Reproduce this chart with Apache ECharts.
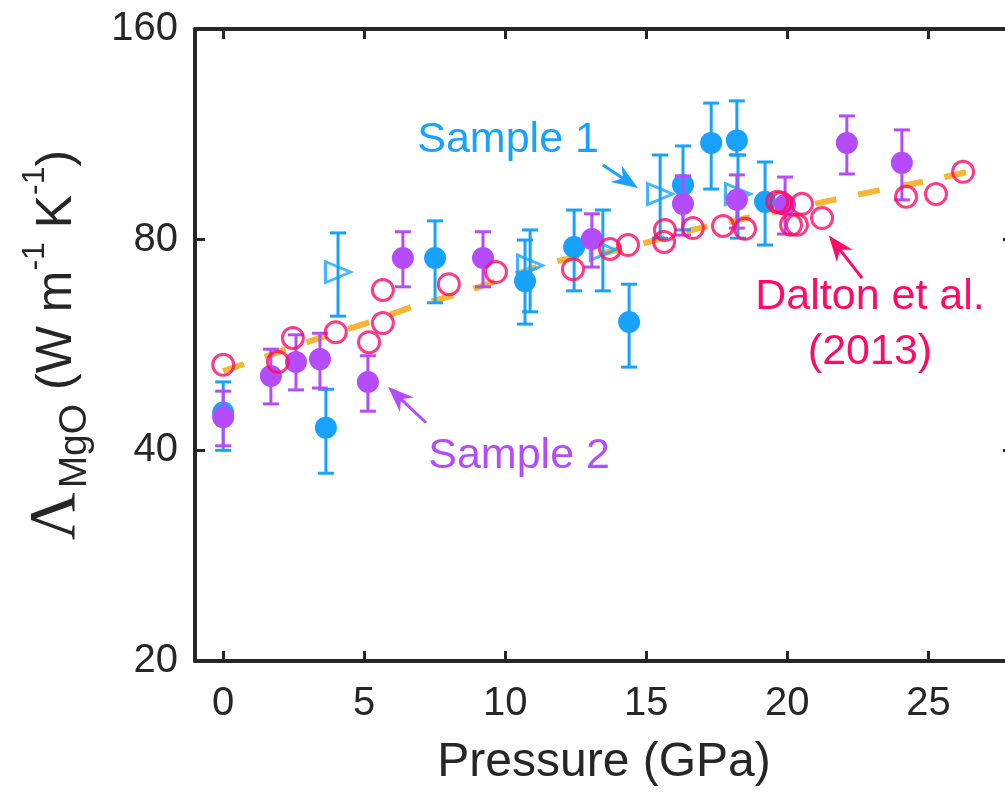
<!DOCTYPE html>
<html>
<head>
<meta charset="utf-8">
<script src="https://cdn.jsdelivr.net/npm/echarts@6/dist/echarts.min.js"></script>
<style>
  html, body { margin: 0; padding: 0; background: #fff; }
  #chart { width: 1005px; height: 794px; }
</style>
</head>
<body>
<div id="chart"></div>
<script>
// Sample 1 - filled circles
const s1Pressure = [0, 3.64, 7.51, 10.70, 12.44, 14.39, 16.30, 17.30, 18.21, 19.21];
const s1Lambda   = [45.3, 43.1, 75.3, 69.8, 78.1, 61.0, 95.8, 110.0, 110.9, 90.6];
const s1Low      = [40.0, 37.1, 65.0, 60.6, 67.6, 52.6, 82.6, 94.5, 105.7, 78.6];
const s1High     = [50.1, 48.9, 85.1, 79.9, 88.2, 69.1, 108.9, 125.4, 126.3, 103.3];

// Sample 1 - open triangles
const s1tPressure = [4.07, 10.88, 13.46, 15.49, 18.25];
const s1tLambda   = [71.9, 73.5, 77.4, 93.0, 93.0];
const s1tLow      = [62.2, 63.1, 67.6, 80.4, 80.4];
const s1tHigh     = [81.8, 82.6, 88.2, 105.7, 105.7];

// Sample 2 - filled circles
const s2Pressure = [0, 1.69, 2.58, 3.43, 5.13, 6.37, 9.21, 13.07, 16.30, 18.21, 19.92, 22.11, 24.06];
const s2Lambda   = [44.6, 51.1, 53.5, 54.0, 50.1, 75.3, 75.3, 80.2, 90.0, 91.2, 89.7, 110.0, 103.0];
const s2Low      = [40.6, 46.6, 48.8, 49.1, 45.5, 68.5, 68.5, 73.1, 81.2, 83.1, 81.5, 99.3, 91.2];
const s2High     = [48.6, 55.8, 58.5, 58.8, 54.6, 82.1, 82.1, 87.1, 98.7, 99.0, 98.3, 120.2, 114.8];

// Dalton et al. (2013) - open circles
const daltonPressure = [0, 1.94, 2.47, 3.99, 5.17, 5.66, 5.66, 8.0, 9.67, 12.40, 13.71, 14.35, 15.63, 15.66,
  16.65, 17.72, 18.5, 19.64, 19.78, 20.52, 20.13, 20.34, 21.23, 24.21, 25.27, 26.23];
const daltonLambda = [53.0, 53.5, 57.9, 59.0, 57.1, 60.8, 67.8, 69.1, 71.9, 72.6, 77.6, 78.6, 79.4, 82.6,
  83.1, 83.7, 82.9, 90.6, 90.3, 90.0, 84.0, 84.0, 85.9, 92.1, 93.0, 100.0];

// fit curve
const fitPressure = [0, 3.53, 5.2, 6.8, 8.43, 11.7, 13.4, 14.88, 16.62, 18.25, 21.63, 23.3, 24.92, 27.01];
const fitLambda   = [51.9, 58.1, 61.0, 64.3, 67.1, 74.3, 76.4, 79.0, 82.6, 85.4, 91.2, 94.2, 97.0, 101.3];

const xTicks = [0, 5, 10, 15, 20, 25];
const yTicks = [20, 40, 80, 160];

// annotations: [text, x, y, colour]
const labels = [
  ['Sample 1', 10.1, 111.1, '#17a2ff'],
  ['Sample 2', 10.49, 39.3, '#b44cfc'],
  ['Dalton et al.', 22.93, 66.3, '#ff0a66'],
  ['(2013)', 22.93, 55.3, '#ff0a66']
];
// arrows: [fromX, fromY, toX, toY, colour]
const arrows = [
  [13.46, 102.3, 14.70, 94.8, '#17a2ff'],
  [7.19, 43.8, 5.84, 49.3, '#b44cfc'],
  [22.65, 70.5, 21.47, 81.1, '#ff0a66']
];

const BLUE = '#17a2ff';
const PURPLE = '#b44cfc';
const RED = '#ff0a66';
const ORANGE = '#f6b633';
const INK = '#262626';
const FONT = "'Liberation Sans', Arial, sans-serif";

function errorBars(pressure, low, high, color, z) {
  return {
    type: 'custom',
    z: z,
    data: pressure.map((p, i) => [p, low[i], high[i]]),
    encode: { x: 0, y: [1, 2] },
    renderItem(params, api) {
      const lo = api.coord([api.value(0), api.value(1)]);
      const hi = api.coord([api.value(0), api.value(2)]);
      const half = 8;
      const style = { stroke: color, lineWidth: 3 };
      return {
        type: 'group',
        children: [
          { type: 'line', shape: { x1: hi[0], y1: hi[1], x2: lo[0], y2: lo[1] }, style },
          { type: 'line', shape: { x1: hi[0] - half, y1: hi[1], x2: hi[0] + half, y2: hi[1] }, style },
          { type: 'line', shape: { x1: lo[0] - half, y1: lo[1], x2: lo[0] + half, y2: lo[1] }, style }
        ]
      };
    }
  };
}

function pairs(xs, ys) {
  return xs.map((x, i) => [x, ys[i]]);
}

const frameLine = { show: true, onZero: false, lineStyle: { color: INK, width: 4 } };
const frameTick = { show: true, inside: true, length: 10, lineStyle: { color: INK, width: 3 } };
const tickFont = { color: INK, fontSize: 40, fontFamily: FONT };

const chart = echarts.init(document.getElementById('chart'));

chart.setOption({
  animation: false,
  backgroundColor: '#fff',
  grid: { left: 195, top: 29, width: 818, height: 632, outerBoundsMode: 'none' },
  xAxis: [
    {
      type: 'value', min: -1, max: 28, position: 'bottom',
      axisLine: frameLine,
      axisTick: Object.assign({ customValues: xTicks }, frameTick),
      axisLabel: Object.assign({ customValues: xTicks, margin: 23 }, tickFont),
      splitLine: { show: false },
      name: 'Pressure (GPa)', nameLocation: 'middle', nameGap: 78,
      nameTextStyle: { color: INK, fontSize: 48, fontFamily: FONT }
    },
    {
      type: 'value', min: -1, max: 28, position: 'top',
      axisLine: frameLine,
      axisTick: Object.assign({ customValues: xTicks }, frameTick),
      axisLabel: { show: false },
      splitLine: { show: false }
    }
  ],
  yAxis: [
    {
      type: 'log', logBase: 2, min: 20, max: 160, position: 'left',
      axisLine: frameLine,
      axisTick: Object.assign({ customValues: yTicks }, frameTick),
      axisLabel: Object.assign({ customValues: yTicks, margin: 17 }, tickFont),
      splitLine: { show: false },
      name: '{L|Λ}{sub|MgO}{n| (W m}{sup|-1}{n| K}{sup|-1}{n|)}',
      nameLocation: 'middle', nameGap: 100,
      nameTextStyle: {
        color: INK, fontFamily: FONT,
        rich: {
          L: { fontSize: 66, lineHeight: 76, color: INK, fontFamily: "'Liberation Serif', serif" },
          n: { fontSize: 50, lineHeight: 76, color: INK, fontFamily: FONT },
          sub: { fontSize: 39, lineHeight: 40, verticalAlign: 'bottom', padding: [0, 0, 0, 4], color: INK, fontFamily: FONT },
          sup: { fontSize: 32, lineHeight: 40, verticalAlign: 'top', color: INK, fontFamily: FONT }
        }
      }
    },
    {
      type: 'log', logBase: 2, min: 20, max: 160, position: 'right',
      axisLine: frameLine,
      axisTick: Object.assign({ customValues: yTicks }, frameTick),
      axisLabel: { show: false },
      splitLine: { show: false }
    }
  ],
  series: [
    {
      name: 'fit', type: 'line', z: 1,
      data: pairs(fitPressure, fitLambda),
      smooth: 0.3, showSymbol: false, silent: true,
      lineStyle: { color: ORANGE, width: 6, type: [22, 22], cap: 'butt' }
    },
    errorBars(s1tPressure, s1tLow, s1tHigh, BLUE, 2),
    {
      name: 'Sample 1 (tri)', type: 'scatter', z: 2,
      data: pairs(s1tPressure, s1tLambda),
      symbol: 'triangle', symbolRotate: -90, symbolSize: [21, 25],
      itemStyle: { color: 'rgba(0,0,0,0)', borderColor: BLUE, borderWidth: 3 }
    },
    errorBars(s1Pressure, s1Low, s1High, BLUE, 2),
    {
      name: 'Sample 1', type: 'scatter', z: 2,
      data: pairs(s1Pressure, s1Lambda),
      symbol: 'circle', symbolSize: 22,
      itemStyle: { color: BLUE, opacity: 1 }
    },
    errorBars(s2Pressure, s2Low, s2High, PURPLE, 3),
    {
      name: 'Sample 2', type: 'scatter', z: 3,
      data: pairs(s2Pressure, s2Lambda),
      symbol: 'circle', symbolSize: 22,
      itemStyle: { color: PURPLE, opacity: 1 }
    },
    {
      name: 'Dalton et al. (2013)', type: 'scatter', z: 4,
      data: pairs(daltonPressure, daltonLambda),
      symbol: 'circle', symbolSize: 21,
      itemStyle: { color: 'rgba(0,0,0,0)', borderColor: RED, borderWidth: 3 }
    }
  ]
});

// annotations placed in data coordinates
const toPx = (x, y) => chart.convertToPixel({ xAxisIndex: 0, yAxisIndex: 0 }, [x, y]);
const graphics = [];
labels.forEach(([text, x, y, color]) => {
  const p = toPx(x, y);
  graphics.push({
    type: 'text', x: p[0], y: p[1], z: 10,
    style: { text, fill: color, fontSize: 43, fontFamily: FONT, align: 'center', verticalAlign: 'middle' }
  });
});
arrows.forEach(([x1, y1, x2, y2, color]) => {
  const a = toPx(x1, y1);
  const b = toPx(x2, y2);
  const dx = b[0] - a[0], dy = b[1] - a[1];
  const len = Math.hypot(dx, dy);
  const ux = dx / len, uy = dy / len;
  const nx = -uy, ny = ux;
  const L = 26, W = 10, notch = 18;
  const back = [b[0] - ux * L, b[1] - uy * L];
  const mid = [b[0] - ux * notch, b[1] - uy * notch];
  graphics.push({
    type: 'line', z: 10,
    shape: { x1: a[0], y1: a[1], x2: mid[0], y2: mid[1] },
    style: { stroke: color, lineWidth: 3 }
  });
  graphics.push({
    type: 'polygon', z: 10,
    shape: { points: [b, [back[0] + nx * W, back[1] + ny * W], mid, [back[0] - nx * W, back[1] - ny * W]] },
    style: { fill: color }
  });
});
chart.setOption({ graphic: graphics });
</script>
</body>
</html>
